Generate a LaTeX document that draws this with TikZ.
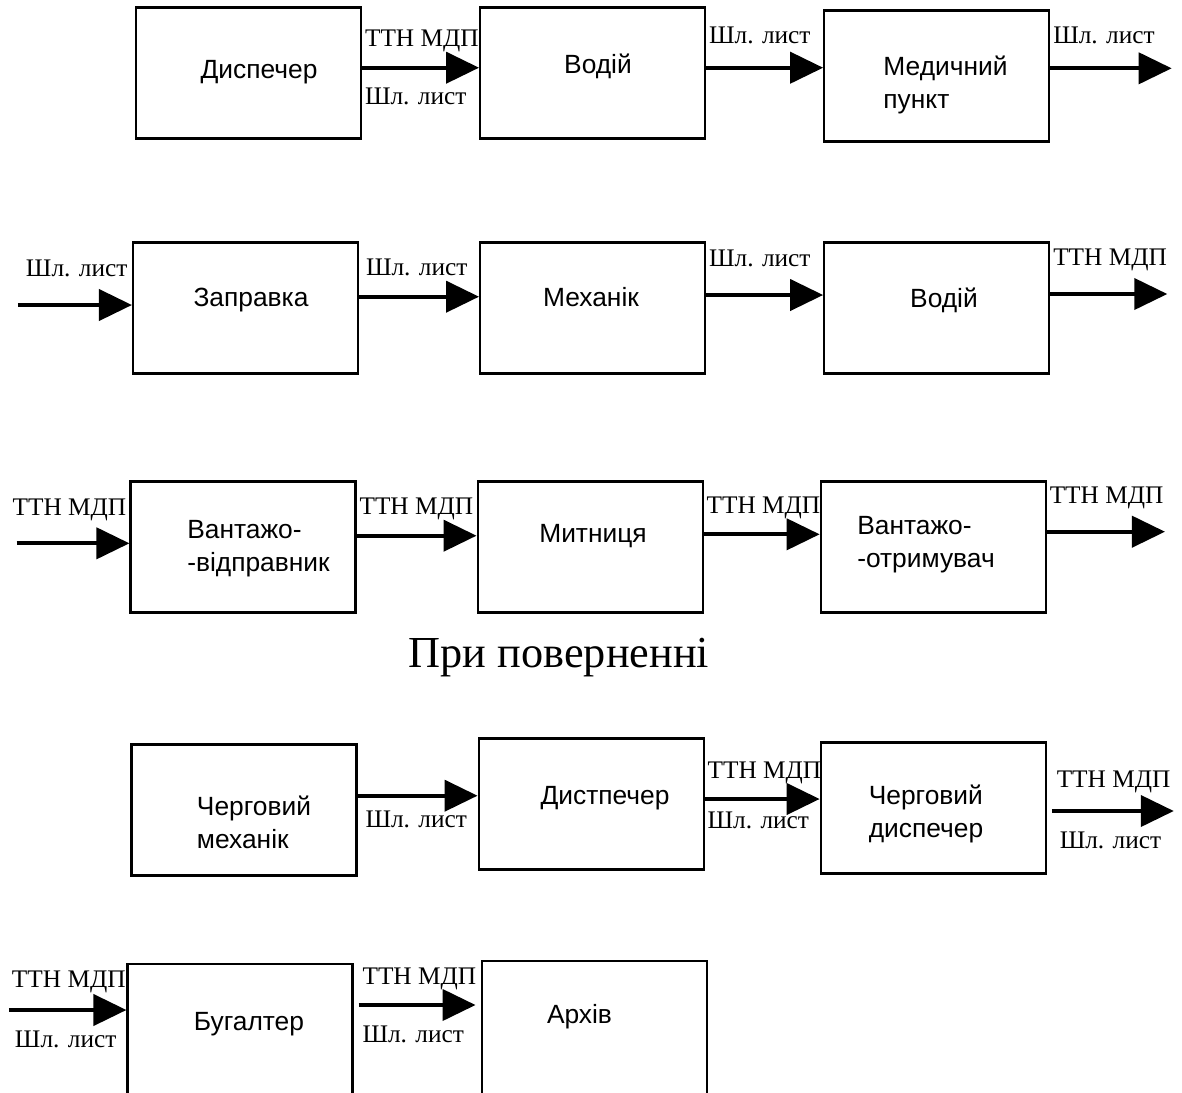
\documentclass[tikz,border=0pt]{standalone}
\usepackage{fontspec}
\setmainfont{Liberation Serif}
\setsansfont{Liberation Sans}
\usetikzlibrary{arrows.meta,positioning}

\begin{document}
\begin{tikzpicture} [
        box/.style={draw=black, rectangle, line width=0.6pt, minimum width=2.25cm, minimum height=1.31cm, inner sep=0pt},
        txt/.style={font=\sffamily\fontsize{7.5}{9.4}\selectfont, align=left, inner sep=0pt},
        lbl/.style={pos=0, font=\fontsize{7.2}{8}\selectfont, text height=0.17cm, text depth=0.05cm, inner xsep=0.03cm, inner ysep=0pt, outer sep=0pt},
        lblup/.style={lbl, anchor=south west, yshift=0.16cm},
        lbldn/.style={lbl, anchor=north west, yshift=-0.20cm},
        ->, >={Triangle[length=0.33cm, width=0.31cm]}, line width=1.15pt, node distance=1.17cm
    ]
    \useasboundingbox (0,0) rectangle (11.82,-10.93);
    \clip (0,0) rectangle (11.82,-10.93);

    \node[box]  (1)                                 at (2.485,-0.73)    {};
    \node[box]  (2)  [right=of 1]                                       {};
    \node[box]  (3)  [right=of 2, yshift=-0.03cm]                       {};

    \node[box]  (4)                                 at (2.455,-3.08)    {};
    \node[box]  (5)  [right=1.20cm of 4]                                {};
    \node[box]  (6)  [right=of 5]                                       {};

    \node[box]  (7)                                 at (2.43,-5.47)     {};
    \node[box]  (8)  [right=1.20cm of 7]                                {};
    \node[box]  (9)  [right=1.16cm of 8]                                {};

    \node       (ret)                               at (5.59,-6.58)     {\fontsize{12.6}{14}\selectfont При поверненні};

    \node[box]  (10)                                at (2.44,-8.10)     {};
    \node[box]  (11) [right=1.20cm of 10, yshift=0.06cm]                {};
    \node[box]  (12) [right=1.15cm of 11, yshift=-0.04cm]               {};

    \node[box, minimum height=1.40cm] (13)          at (2.40,-10.34)    {};
    \node[box, minimum height=1.40cm] (14) [right=1.27cm of 13, yshift=0.03cm] {};

    % texts in the boxes
    \node[txt]  (1t)     at (2.59,-0.72)    {Диспечер};
    \node[txt]  (2t)     at (5.98,-0.66)    {Водій};
    \node[txt]  (3t)     at (9.455,-0.85)   {Медичний\\пункт};
    \node[txt]  (4t)     at (2.51,-3.00)    {Заправка};
    \node[txt]  (5t)     at (5.91,-2.97)    {Механік};
    \node[txt]  (6t)     at (9.44,-3.00)    {Водій};
    \node[txt]  (7t)     at (2.585,-5.49)   {Вантажо-\\-відправник};
    \node[txt]  (8t)     at (5.93,-5.36)    {Митниця};
    \node[txt]  (9t)     at (9.26,-5.45)    {Вантажо-\\-отримувач};
    \node[txt]  (10t)    at (2.54,-8.22)    {Черговий\\механік};
    \node[txt]  (11t)    at (6.05,-7.98)    {Дистпечер};
    \node[txt]  (12t)    at (9.26,-8.14)    {Черговий\\диспечер};
    \node[txt]  (13t)    at (2.49,-10.24)   {Бугалтер};
    \node[txt]  (14t)    at (5.795,-10.17)  {Архів};

    % free ends
    \coordinate (out1) at (11.717,-0.683);
    \coordinate (in2)  at (0.18,-3.05);
    \coordinate (out2) at (11.673,-2.94);
    \coordinate (in3)  at (0.167,-5.433);
    \coordinate (out3) at (11.65,-5.317);
    \coordinate (out4) at (11.738,-8.11);
    \coordinate (in5)  at (0.09,-10.10);

    \path
    (1.east |- 0,-0.677) % Диспечер
    edge                                    node[lblup] {ТТН МДП} node[lbldn] {Шл. лист}    (2.west |- 0,-0.677)

    (2.east |- 0,-0.677) % Водій
    edge                                    node[lblup, yshift=1pt] {Шл. лист}              (3.west |- 0,-0.677)

    (3.east |- out1) % Медичний пункт
    edge                                    node[lblup, yshift=1pt] {Шл. лист}              (out1)

    (in2)
    edge                                    node[lblup, yshift=2pt, xshift=0.05cm] {Шл. лист} (4.west |- in2)

    (4.east |- 0,-2.967) % Заправка
    edge                                    node[lblup, xshift=0.04cm] {Шл. лист}           (5.west |- 0,-2.967)

    (5.east |- 0,-2.95) % Механік
    edge                                    node[lblup, yshift=2pt] {Шл. лист}              (6.west |- 0,-2.95)

    (6.east |- out2) % Водій
    edge                                    node[lblup, yshift=2pt] {ТТН МДП}               (out2)

    (in3)
    edge                                    node[lblup, yshift=2pt, xshift=-0.07cm] {ТТН МДП} (7.west |- in3)

    (7.east |- 0,-5.357) % Вантажо-відправник
    edge                                    node[lblup] {ТТН МДП}                           (8.west |- 0,-5.357)

    (8.east |- 0,-5.343) % Митниця
    edge                                    node[lblup] {ТТН МДП}                           (9.west |- 0,-5.343)

    (9.east |- out3) % Вантажо-отримувач
    edge                                    node[lblup, yshift=2pt] {ТТН МДП}               (out3)

    (10.east |- 0,-7.957) % Черговий механік
    edge                                    node[lbldn, yshift=0.05cm, xshift=0.05cm] {Шл. лист} (11.west |- 0,-7.957)

    (11.east |- 0,-7.99) % Дистпечер
    edge                                    node[lblup] {ТТН МДП} node[lbldn, yshift=0.08cm] {Шл. лист} (12.west |- 0,-7.99)

    (12.east |- out4) % Черговий диспечер
    edge    [shorten <=0.05cm]              node[lblup, yshift=0.03cm, xshift=0.07cm] {ТТН МДП} node[lbldn, xshift=0.10cm] {Шл. лист} (out4)

    (in5)
    edge                                    node[lblup, yshift=0.02cm] {ТТН МДП} node[lbldn, xshift=0.03cm] {Шл. лист} (13.west |- in5)

    (13.east |- 0,-10.05) % Бугалтер
    edge    [shorten <=0.05cm, shorten >=0.05cm] node[lblup, xshift=0.06cm] {ТТН МДП} node[lbldn, xshift=0.06cm] {Шл. лист} (14.west |- 0,-10.05);
\end{tikzpicture}
\end{document}
